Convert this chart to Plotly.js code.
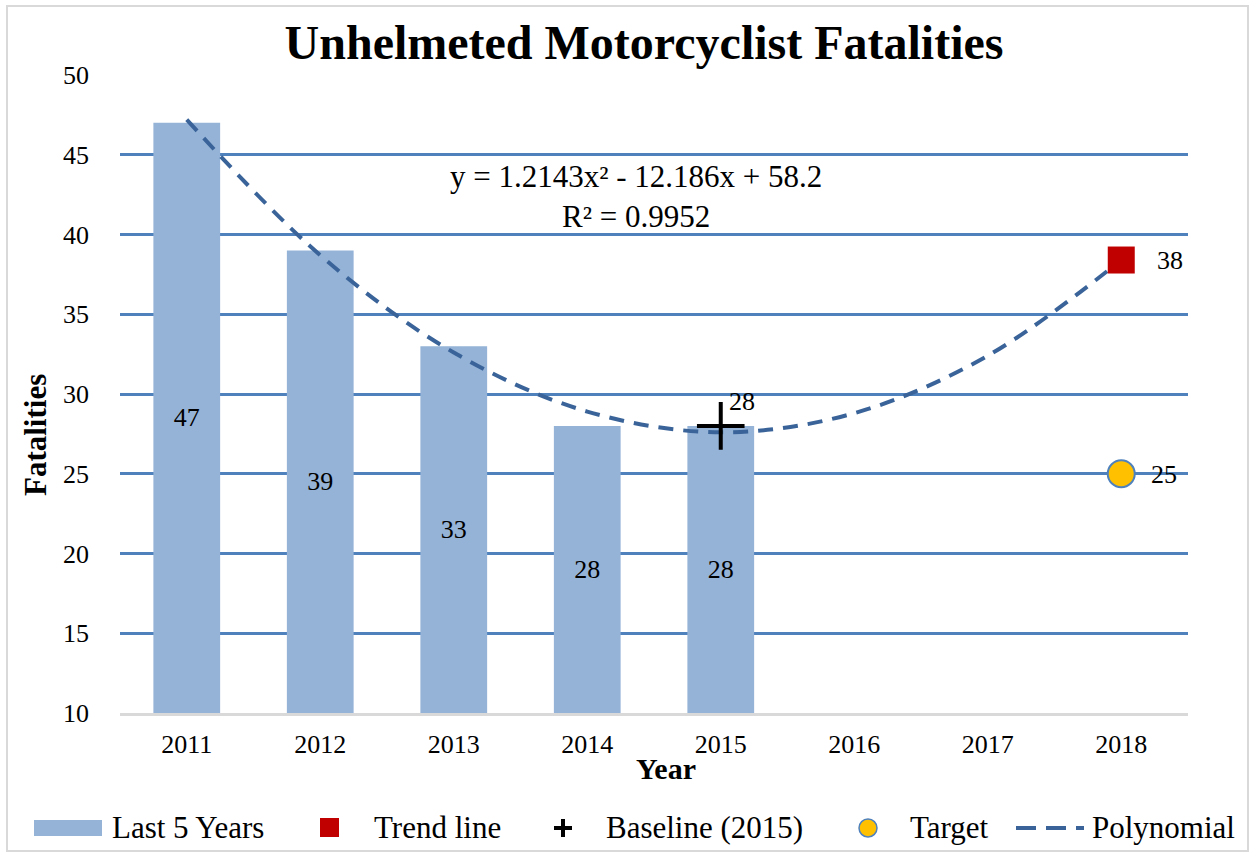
<!DOCTYPE html>
<html><head><meta charset="utf-8">
<script src="https://cdn.plot.ly/plotly-3.0.1.min.js"></script>
<style>
body{margin:0;padding:0;background:#fff;}
#wrap{position:relative;width:1253px;height:853px;}
#chart{width:1253px;height:853px;}
#frame{position:absolute;left:6px;top:5px;width:1239px;height:843px;border:2px solid #D9D9D9;pointer-events:none;}
</style></head>
<body>
<div id="wrap"><div id="chart"></div><div id="frame"></div></div>
<script>
// ---- data ----
const years = ["2011","2012","2013","2014","2015","2016","2017","2018"];
const barYears = ["2011","2012","2013","2014","2015"];
const fatalities = [47, 39, 33, 28, 28];
const trendYear = ["2018"];
const trendValue = [38.4];
const trendLabel = ["38"];
const baselineYear = ["2015"];
const baselineValue = [28];
const baselineLabel = ["28"];
const targetYear = ["2018"];
const targetValue = [25];
const targetLabel = ["25"];
// polynomial trend values read at each year (y = 1.2143x^2 - 12.186x + 58.2)
const polyValues = [47.2, 38.7, 32.6, 28.9, 27.6, 28.8, 32.4, 38.4];
const axisMin = 10;
const yTicks = [10, 15, 20, 25, 30, 35, 40, 45, 50];
const equationText = "y = 1.2143x² - 12.186x + 58.2<br>R² = 0.9952";
const legendNames = ["Last 5 Years", "Trend line", "Baseline (2015)", "Target", "Polynomial"];

const serif = "Liberation Serif, Times New Roman, serif";
const C = {bar: "#95B3D7", trend: "#C00000", target: "#FFC000", edge: "#4F81BD", poly: "#3A6499"};

const traces = [
  {
    type: "bar", name: legendNames[0], x: barYears,
    y: fatalities.map(v => v - axisMin), base: axisMin,
    text: fatalities.map(String), textposition: "inside", insidetextanchor: "middle",
    textfont: {family: serif, size: 26, color: "#000"}, constraintext: "none",
    marker: {color: C.bar}, width: 0.5, hoverinfo: "skip"
  },
  {
    type: "scatter", mode: "lines", name: legendNames[4], x: years, y: polyValues,
    line: {shape: "spline", smoothing: 1, color: C.poly, width: 4, dash: "15px,10px"}
  },
  {
    type: "scatter", mode: "markers", name: legendNames[1], x: trendYear, y: trendValue,
    marker: {symbol: "square", size: 27, color: C.trend}
  },
  {
    type: "scatter", mode: "markers", name: legendNames[2], x: baselineYear, y: baselineValue,
    marker: {symbol: "cross-thin", size: 34, color: "#000", line: {color: "#000", width: 4}}
  },
  {
    type: "scatter", mode: "markers", name: legendNames[3], x: targetYear, y: targetValue,
    marker: {symbol: "circle", size: 27, color: C.target, line: {color: C.edge, width: 2}}
  }
];

// pixel -> paper helpers (plot area: x 120..1188, y 75..713)
const PX = p => (p - 120) / 1068;
const PY = p => (713 - p) / 638;
const catIdx = y => years.indexOf(y);

const lf = {family: serif, size: 31, color: "#000"};
const legendY = PY(828);
const legendText = [[110, legendNames[0]], [372, legendNames[1]], [604, legendNames[2]], [908, legendNames[3]], [1090, legendNames[4]]];

const annotations = [
  {text: "<b>Fatalities</b>", textangle: -90, xref: "paper", yref: "paper", x: PX(35), y: PY(435),
   xanchor: "center", yanchor: "middle", showarrow: false, font: {family: serif, size: 31}},
  {text: "<b>Year</b>", xref: "paper", yref: "paper", x: PX(666), y: PY(768),
   xanchor: "center", yanchor: "middle", showarrow: false, font: {family: serif, size: 30}},
  {text: equationText, xref: "paper", yref: "paper", x: PX(636), y: PY(196),
   xanchor: "center", yanchor: "middle", showarrow: false, align: "center",
   font: {family: serif, size: 31}},
  {text: trendLabel[0], x: catIdx(trendYear[0]), y: trendValue[0], xref: "x", yref: "y", xanchor: "left", yanchor: "middle",
   xshift: 34, showarrow: false, font: {family: serif, size: 26}},
  {text: targetLabel[0], x: catIdx(targetYear[0]), y: targetValue[0], xref: "x", yref: "y", xanchor: "left", yanchor: "middle",
   xshift: 28, yshift: -1, showarrow: false, font: {family: serif, size: 26}},
  {text: baselineLabel[0], x: catIdx(baselineYear[0]), y: baselineValue[0], xref: "x", yref: "y", xanchor: "left", yanchor: "middle",
   xshift: 6, yshift: 24, showarrow: false, font: {family: serif, size: 26}}
].concat(legendText.map(([p, t]) => ({text: t, xref: "paper", yref: "paper", x: PX(p), y: legendY,
   xanchor: "left", yanchor: "middle", showarrow: false, font: lf})));

const shapes = [
  {type: "rect", xref: "paper", yref: "paper", x0: PX(34), x1: PX(102), y0: PY(836), y1: PY(820), fillcolor: C.bar, line: {width: 0}},
  {type: "rect", xref: "paper", yref: "paper", x0: PX(320), x1: PX(339), y0: PY(837), y1: PY(818), fillcolor: C.trend, line: {width: 0}},
  {type: "line", xref: "paper", yref: "paper", x0: PX(554), x1: PX(572), y0: legendY, y1: legendY, line: {color: "#000", width: 4}},
  {type: "line", xref: "paper", yref: "paper", x0: PX(563), x1: PX(563), y0: PY(819), y1: PY(837), line: {color: "#000", width: 4}},
  {type: "circle", xref: "paper", yref: "paper", x0: PX(859), x1: PX(877), y0: PY(837), y1: PY(819), fillcolor: C.target, line: {color: C.edge, width: 1.5}},
  {type: "line", xref: "paper", yref: "paper", x0: PX(1016), x1: PX(1084), y0: legendY, y1: legendY, line: {color: C.poly, width: 4, dash: "20px,10px"}}
];

const layout = {
  width: 1253, height: 853,
  margin: {l: 120, r: 65, t: 75, b: 140},
  paper_bgcolor: "#fff", plot_bgcolor: "#fff",
  font: {family: serif, size: 26, color: "#000"},
  title: {text: "<b>Unhelmeted Motorcyclist Fatalities</b>", font: {family: serif, size: 48, color: "#000"},
          x: 0.514, xanchor: "center", y: 0.951, yanchor: "middle"},
  xaxis: {type: "category", categoryarray: years, categoryorder: "array", range: [-0.5, 7.5],
          showgrid: false, showline: true, linecolor: "#D9D9D9", linewidth: 3,
          ticks: "", ticklabelstandoff: 6, tickangle: 0, tickfont: {family: serif, size: 26}},
  yaxis: {range: [10, 50], tickvals: yTicks, showgrid: true, gridcolor: C.edge, gridwidth: 3,
          zeroline: false, showline: false, ticks: "", ticklabelstandoff: 30,
          tickfont: {family: serif, size: 26}},
  showlegend: false,
  annotations: annotations,
  shapes: shapes
};
Plotly.newPlot("chart", traces, layout, {displayModeBar: false, responsive: false});
</script>
</body></html>
